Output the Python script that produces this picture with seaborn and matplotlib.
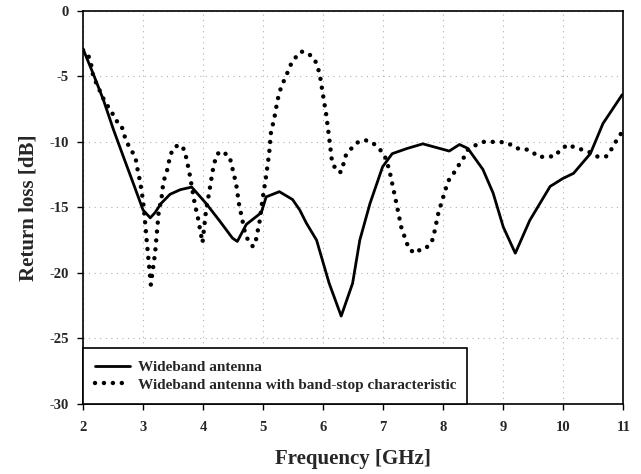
import matplotlib
matplotlib.use("Agg")
import matplotlib.pyplot as plt
import seaborn as sns
import pandas as pd

solid_x = [2.0, 2.17, 2.34, 2.51, 2.67, 2.84, 3.0, 3.12, 3.2, 3.3, 3.45, 3.62, 3.81, 4.05, 4.27,
           4.49, 4.57, 4.72, 4.97, 5.05, 5.27, 5.49, 5.61, 5.72, 5.89, 6.1, 6.3, 6.49, 6.61,
           6.78, 6.99, 7.15, 7.4, 7.66, 7.94, 8.1, 8.27, 8.41, 8.66, 8.83, 9.0, 9.2, 9.44,
           9.78, 9.99, 10.17, 10.45, 10.66, 10.98]
solid_y = [-2.9, -4.8, -6.8, -9.1, -11.1, -13.2, -15.2, -15.8, -15.4, -14.7, -14.0, -13.65,
           -13.45, -14.7, -16.0, -17.35, -17.6, -16.3, -15.4, -14.2, -13.8, -14.4, -15.2,
           -16.2, -17.5, -20.8, -23.3, -20.8, -17.5, -14.7, -11.9, -10.9, -10.5, -10.15,
           -10.5, -10.7, -10.2, -10.5, -12.1, -13.9, -16.5, -18.5, -16.0, -13.4, -12.8,
           -12.4, -10.9, -8.6, -6.4]

dotted_x = [2.0, 2.06, 2.12, 2.17, 2.37, 2.48, 2.53, 2.64, 2.67, 2.73, 2.78, 2.87, 2.92, 2.95,
            3.0, 3.03, 3.06, 3.13, 3.2, 3.26, 3.31, 3.34, 3.39, 3.45, 3.5, 3.6, 3.69, 3.77,
            3.86, 3.91, 3.99, 4.05, 4.1, 4.16, 4.22,
            4.3, 4.44, 4.55, 4.6, 4.66, 4.71, 4.83, 4.88, 4.94, 4.99, 5.05, 5.1, 5.13, 5.19,
            5.24, 5.30, 5.37, 5.47, 5.55, 5.63, 5.74, 5.86, 5.94, 6.0, 6.05, 6.1, 6.15, 6.24,
            6.30, 6.38, 6.47, 6.57, 6.69, 6.82, 6.93, 7.02, 7.1, 7.16, 7.22, 7.3, 7.39, 7.44,
            7.55, 7.64, 7.75, 7.83, 7.92, 8.0, 8.08, 8.16, 8.24, 8.33, 8.41, 8.56, 8.67, 8.95,
            9.08, 9.22, 9.33, 9.47, 9.58, 9.86, 9.95, 10.08, 10.22, 10.33, 10.47, 10.58,
            10.72, 10.81, 10.89, 10.97]
dotted_y = [-3.0, -3.2, -3.7, -5.0, -7.0, -7.7, -8.3, -8.7, -9.3, -10.0, -10.5, -11.1, -12.4,
            -13.0, -14.5, -15.9, -17.5, -20.9, -18.5, -15.4, -14.2, -13.0, -12.4, -11.1,
            -10.5, -10.2, -10.6, -12.3, -14.7, -15.7,
            -17.7, -15.2, -13.9, -12.2, -11.0, -10.7, -11.1, -13.2, -14.8, -16.1, -17.2,
            -18.0, -17.5, -16.1, -14.4, -12.6, -10.9, -9.3, -8.1, -6.8, -5.8, -5.1, -4.0,
            -3.5, -3.1, -3.2, -3.7, -4.75, -6.5, -7.9, -9.7, -11.6, -12.3, -12.3, -11.0,
            -10.5, -10.05, -9.85, -10.05, -10.5, -11.0, -12.1, -13.4, -14.7, -16.5, -17.7,
            -18.25, -18.5, -18.1, -18.0, -17.4, -15.4, -14.2, -13.0, -12.5, -11.9, -11.3,
            -10.6, -10.2, -10.0, -10.0, -10.1, -10.5, -10.5, -10.7, -11.15, -11.1, -10.6,
            -10.2, -10.5, -10.6, -10.85, -11.15, -11.1, -10.5, -9.85, -9.3]

labels = ["Wideband antenna", "Wideband antenna with band-stop characteristic"]
x_ticks = [2, 3, 4, 5, 6, 7, 8, 9, 10, 11]
y_ticks = [0, -5, -10, -15, -20, -25, -30]

sns.set_style("ticks")
plt.rcParams["font.family"] = ["Liberation Serif", "DejaVu Serif"]
plt.rcParams["font.weight"] = "bold"
plt.rcParams["axes.unicode_minus"] = False

fig = plt.figure(figsize=(6.41, 4.74), dpi=100)
ax = fig.add_axes([0.1295, 0.148, 0.843, 0.829])

df_solid = pd.DataFrame({"x": solid_x, "y": solid_y})
df_dot = pd.DataFrame({"x": dotted_x, "y": dotted_y})

sns.lineplot(data=df_solid, x="x", y="y", ax=ax, color="black", linewidth=2.0,
             label=labels[0], estimator=None, sort=False)
sns.lineplot(data=df_dot, x="x", y="y", ax=ax, color="black", linewidth=3.2,
             linestyle=(0, (0.01, 2.0)), dash_capstyle="round",
             label=labels[1], estimator=None, sort=False)

ax.set_xlim(2, 11)
ax.set_ylim(-30, 0)
ax.set_xticks(x_ticks)
ax.set_yticks(y_ticks)
ax.tick_params(axis="both", labelsize=10.5, length=4, width=1, color="black", direction="out")
ax.tick_params(axis="x", pad=8)
ax.tick_params(axis="y", pad=6)
for t in ax.get_xticklabels() + ax.get_yticklabels():
    t.set_fontweight("bold")
ax.grid(True, color="#b0b0b0", linestyle=(0, (1, 4)), linewidth=0.8)
for s in ax.spines.values():
    s.set_color("black")
    s.set_linewidth(1.2)

ax.set_xlabel("Frequency [GHz]", fontsize=15, fontweight="bold", labelpad=11)
ax.set_ylabel("Return loss [dB]", fontsize=15, fontweight="bold", labelpad=8)

leg = ax.legend(loc="lower left", bbox_to_anchor=(0, 0, 0.711, 0.15), mode="expand",
                borderaxespad=0, fancybox=False, edgecolor="black", facecolor="white",
                framealpha=1, prop={"weight": "bold", "size": 11}, handlelength=2.3,
                handletextpad=0.5, borderpad=0.8, labelspacing=0.25)
leg.get_frame().set_linewidth(1.2)
leg.set_zorder(5)

fig.savefig("out.png", dpi=100)
